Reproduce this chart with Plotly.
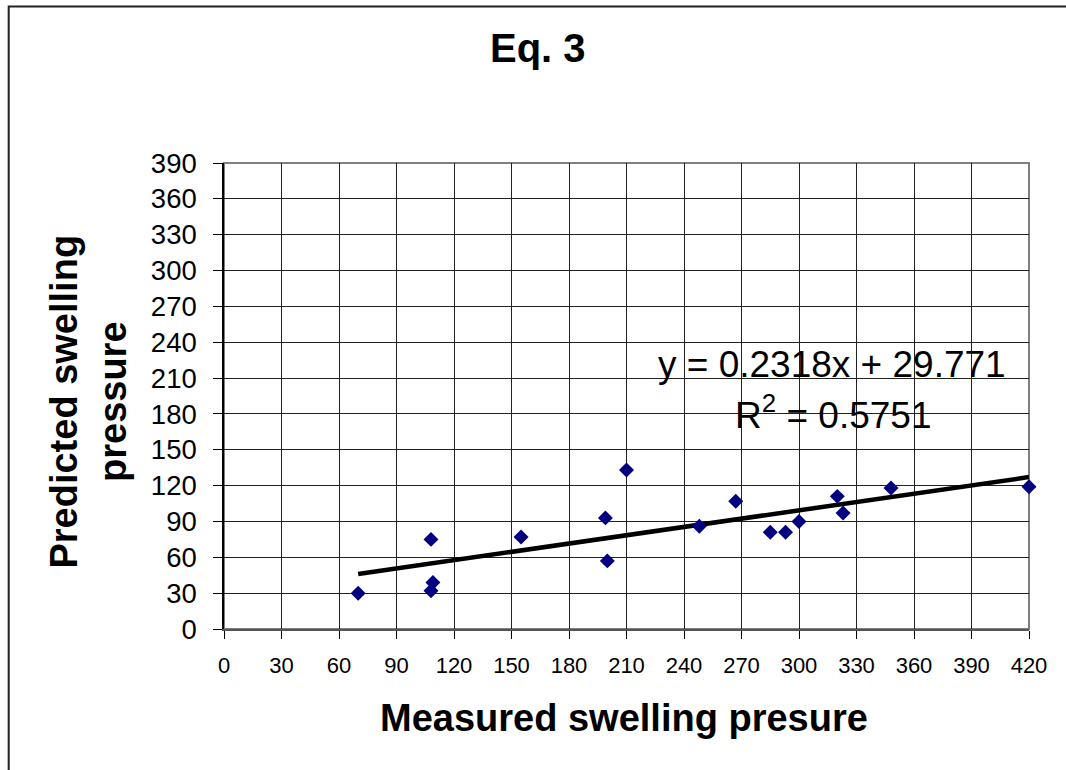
import plotly.graph_objects as go

# Data
measured = [70, 108, 109, 108, 155, 199, 200, 210, 248, 267, 285, 293, 300, 320, 323, 348, 420]
predicted = [30, 75, 39, 32, 77, 93, 57, 133, 86, 107, 81, 81, 90, 111, 97, 118, 119]
slope = 0.2318
intercept = 29.771
r_squared = 0.5751
tick_vals_x = list(range(0, 421, 30))
tick_vals_y = list(range(0, 391, 30))

W, H = 1066, 770
L, R, T, B = 224.3, 1029.3, 163.3, 629.0

def px_x(p):
    return (p - L) / (R - L)

def px_y(p):
    return (B - p) / (B - T)

trend_x = [min(measured), max(measured)]
trend_y = [slope * v + intercept for v in trend_x]

fig = go.Figure()
fig.add_trace(go.Scatter(
    x=trend_x, y=trend_y, mode="lines",
    line=dict(color="black", width=4.5),
    showlegend=False,
))
fig.add_trace(go.Scatter(
    x=measured, y=predicted, mode="markers",
    marker=dict(symbol="diamond", size=11.5, color="#000080", line=dict(width=0)),
    showlegend=False, cliponaxis=False,
))

font_fam = "Liberation Sans, Arial, sans-serif"

fig.update_layout(
    width=W, height=H,
    margin=dict(l=L, r=W - R, t=T, b=H - B, pad=0),
    paper_bgcolor="white", plot_bgcolor="white",
    font=dict(family=font_fam, color="black"),
    showlegend=False,
    xaxis=dict(
        range=[0, 420], tickvals=tick_vals_x, ticktext=[str(v) for v in tick_vals_x],
        showgrid=True, gridcolor="#222222", gridwidth=1,
        showline=True, linecolor="#555555", linewidth=2,
        ticks="outside", ticklen=8, tickcolor="black", tickwidth=1,
        tickfont=dict(size=22, family=font_fam), zeroline=False,
        ticklabelstandoff=8,
    ),
    yaxis=dict(
        range=[0, 390], tickvals=tick_vals_y, ticktext=[str(v) for v in tick_vals_y],
        showgrid=True, gridcolor="#222222", gridwidth=1,
        showline=True, linecolor="black", linewidth=1.5,
        ticks="outside", ticklen=9, tickcolor="black", tickwidth=1,
        tickfont=dict(size=27.5, family=font_fam), zeroline=False,
        ticklabelstandoff=11,
    ),
    shapes=[
        dict(type="rect", xref="paper", yref="paper", x0=0, y0=0, x1=1, y1=1,
             line=dict(color="#808080", width=2), layer="below"),
        dict(type="rect", xref="paper", yref="paper",
             x0=px_x(9), y0=px_y(7), x1=px_x(1090), y1=px_y(800),
             line=dict(color="#222222", width=2)),
    ],
    annotations=[
        dict(text="<b>Eq. 3</b>", xref="paper", yref="paper",
             x=px_x(538), y=px_y(48), xanchor="center", yanchor="middle",
             showarrow=False, font=dict(size=40, family=font_fam)),
        dict(text="<b>Measured swelling presure</b>", xref="paper", yref="paper",
             x=px_x(624), y=px_y(718), xanchor="center", yanchor="middle",
             showarrow=False, font=dict(size=38, family=font_fam)),
        dict(text="<b>Predicted swelling<br>pressure</b>", xref="paper", yref="paper",
             x=px_x(89), y=px_y(402), xanchor="center", yanchor="middle",
             textangle=-90, showarrow=False, font=dict(size=38, family=font_fam)),
        dict(text="y = %.4fx + %.3f" % (slope, intercept), xref="paper", yref="paper",
             x=px_x(832), y=px_y(365), xanchor="center", yanchor="middle",
             showarrow=False, font=dict(size=37, family=font_fam)),
        dict(text="R<sup>2</sup> = %.4f" % r_squared, xref="paper", yref="paper",
             x=px_x(833), y=px_y(413), xanchor="center", yanchor="middle",
             showarrow=False, font=dict(size=37, family=font_fam)),
    ],
)

fig.write_html("out.html")
